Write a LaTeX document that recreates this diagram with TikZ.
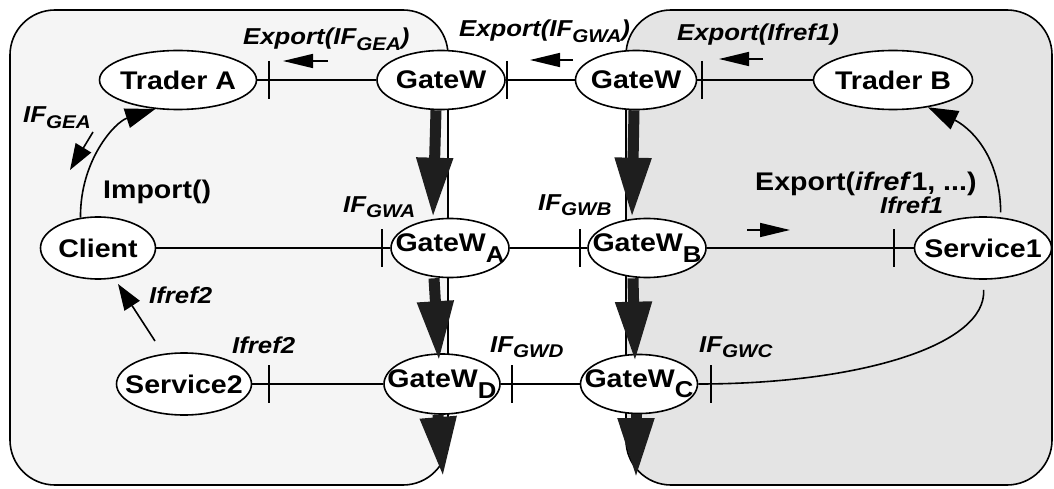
\documentclass[tikz,border=0pt]{standalone}
\usepackage{fontspec}
\setmainfont{Liberation Sans}[FakeStretch=1.12]
\usepackage{graphicx}
\usetikzlibrary{shapes.geometric,arrows.meta}

\definecolor{zoneA}{HTML}{F5F5F5}
\definecolor{zoneB}{HTML}{E4E4E4}
\definecolor{heavy}{HTML}{1E1E1E}

% subscripts in node names and in interface labels
\newcommand{\gsub}[1]{\raisebox{-.4em}{\scalebox{.9}{#1}}}
\newcommand{\isub}[1]{\raisebox{-.25em}{\scalebox{.8}{#1}}}

\tikzset{
  gate/.style={ellipse, draw, fill=white, line width=1.6, inner xsep=-30pt,
    inner ysep=0pt, minimum height=59, font=\fontsize{25.5}{28}\selectfont\bfseries},
  lbl/.style={anchor=base west, inner sep=0pt,
    font=\fontsize{23}{25}\selectfont\bfseries\itshape},
  big/.style={font=\fontsize{25.5}{28}\selectfont\bfseries},
  wire/.style={line width=1.6},
  bigarrow/.style={line width=11, draw=heavy, -{Triangle[length=60,width=34]}},
  hint/.style={line width=1.6, -{Triangle[length=30,width=14]}},
  hint2/.style={line width=1.6, -{Triangle[length=26,width=18]}},
  cut/.pic={\draw[line width=1.6] (0,-19) -- (0,19);}
}

\begin{document}
\begin{tikzpicture}[x=1pt,y=-1pt]
\useasboundingbox (0,0) rectangle (1054,489);

% the two domains
\filldraw[fill=zoneA, line width=1.6, rounded corners=45] (10,10) rectangle (448,485);
\filldraw[fill=zoneB, line width=1.6, rounded corners=45] (626,10) rectangle (1052,485);

% objects
\node[gate, minimum width=157] (tra) at (178,80) {Trader A};
\node[gate, minimum width=128] (gwl) at (441,80) {GateW};
\node[gate, minimum width=121] (gwr) at (636,80) {GateW};
\node[gate, minimum width=159] (trb) at (893,80) {Trader B};
\node[gate, minimum width=115, minimum height=62] (cli) at (98,248) {Client};
\node[gate, minimum width=118] (gwa) at (450,248) {GateW\gsub{A}};
\node[gate, minimum width=118] (gwb) at (647,248) {GateW\gsub{B}};
\node[gate, minimum width=137, minimum height=62] (sv1) at (983,248) {Service1};
\node[gate, minimum width=135, minimum height=62] (sv2) at (184,384) {Service2};
\node[gate, minimum width=116, minimum height=60] (gwd) at (442,384) {GateW\gsub{D}};
\node[gate, minimum width=117] (gwc) at (639,384) {GateW\gsub{C}};

% bindings
\draw[wire] (tra) -- (gwl);
\draw[wire] (gwl) -- (gwr);
\draw[wire] (gwr) -- (trb);
\draw[wire] (cli) -- (gwa);
\draw[wire] (gwa) -- (gwb);
\draw[wire] (gwb) -- (sv1);
\draw[wire] (sv2) -- (gwd);
\draw[wire] (gwd) -- (gwc);
\draw[wire, shorten >=10] (gwc.east) .. controls (860,384) and (987,345) .. (sv1.south);

% interface marks
\foreach \p in {(269,80),(507,80),(702,80),(382,248),(580,248),(894,248),
                (269,384),(512,384),(711,384)}
  \path \p pic{cut};

% import / export paths
\draw[wire, -{Triangle[length=30,width=20]}] (cli.120) .. controls (80,160) and (115,122) .. (tra.232);
\draw[wire, shorten <=5, -{Triangle[length=30,width=20]}] (sv1.60) .. controls (1000,150) and (965,125) .. (trb.322);

% gateway chain
\coordinate (outd) at (443,477);
\coordinate (outc) at (636,478);
\draw[bigarrow] ([xshift=-5]gwl.south) -- ([xshift=-17]gwa.north);
\draw[bigarrow] ([xshift=-2]gwr.south) -- ([xshift=-15]gwb.north);
\draw[bigarrow] ([xshift=-16]gwa.south) -- ([xshift=-3,yshift=-8]gwd.north);
\draw[bigarrow] ([xshift=-14]gwb.south) -- ([xshift=-4,yshift=-8]gwc.north);
\draw[bigarrow] ([xshift=-4]gwd.south) -- (outd);
\draw[bigarrow] ([xshift=-3]gwc.south) -- (outc);

% labels
\node[lbl] (lgea) at (243,45) {Export(IF\isub{GEA})};
\node[lbl] (lgwa) at (459,37) {Export(IF\isub{GWA})};
\node[lbl] (lref) at (677,41) {Export(Ifref1)};
\node[lbl] (igea) at (23,123) {IF\isub{GEA}};
\node[lbl, big] (imp) at (103,199) {Import()};
\node[lbl] (igwa) at (343,212) {IF\isub{GWA}};
\node[lbl] (igwb) at (538,210) {IF\isub{GWB}};
\node[lbl, big] (exp) at (755,190) {Export(\textit{ifref}1, ...)};
\node[lbl] (iref1) at (880,213) {Ifref1};
\node[lbl] (iref2a) at (149,303) {Ifref2};
\node[lbl] (iref2b) at (232,353) {Ifref2};
\node[lbl] (igwd) at (490,352) {IF\isub{GWD}};
\node[lbl] (igwc) at (699,352) {IF\isub{GWC}};

% direction hints
\coordinate (h1) at (328,61);  \coordinate (h2) at (283,61);
\coordinate (h3) at (573,60);  \coordinate (h4) at (530,60);
\coordinate (h5) at (763,59);  \coordinate (h6) at (719,59);
\coordinate (h7) at (747,230); \coordinate (h8) at (790,230);
\coordinate (h9) at (93,132);  \coordinate (h10) at (70,170);
\coordinate (h11) at (155,341); \coordinate (h12) at (118,284);
\draw[hint] (h1) -- (h2);
\draw[hint] (h3) -- (h4);
\draw[hint] (h5) -- (h6);
\draw[hint] (h7) -- (h8);
\draw[hint2] (h9) -- (h10);
\draw[hint2] (h11) -- (h12);
\end{tikzpicture}
\end{document}
